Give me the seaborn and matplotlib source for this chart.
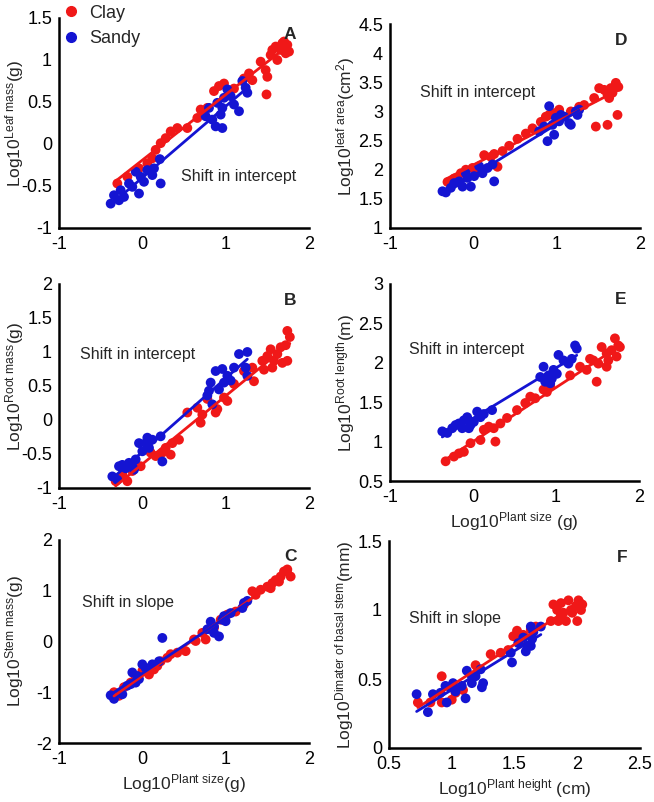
import numpy as np
import pandas as pd
import matplotlib
matplotlib.use("Agg")
import matplotlib.pyplot as plt
import seaborn as sns
from matplotlib.lines import Line2D
from matplotlib.ticker import FuncFormatter

sns.set_style("white")
plt.rcParams["font.family"] = ["Liberation Sans", "DejaVu Sans"]
plt.rcParams["mathtext.fontset"] = "custom"
plt.rcParams["mathtext.rm"] = "Liberation Sans"
plt.rcParams["mathtext.it"] = "Liberation Sans:italic"
plt.rcParams["mathtext.bf"] = "Liberation Sans:bold"
plt.rcParams["axes.unicode_minus"] = False

RED = "#f01818"
BLUE = "#1414d2"

# ---------------- Panel A: leaf mass vs plant size ----------------
a_clay_x = [-0.3, -0.18, -0.04, 0.06, 0.12, 0.16, 0.22, 0.28, 0.34, 0.42, 0.54, 0.66, 0.70, 0.78,
            0.86, 0.92, 0.98, 1.10, 1.22, 1.28, 1.32, 1.42, 1.48, 1.50, 1.49, 1.54, 1.56, 1.60,
            1.62, 1.66, 1.68, 1.70, 1.72, 1.74, 1.76]
a_clay_y = [-0.47, -0.39, -0.29, -0.23, -0.17, -0.07, 0.01, 0.07, 0.15, 0.19, 0.19, 0.31, 0.41, 0.43,
            0.63, 0.69, 0.72, 0.66, 0.78, 0.84, 0.76, 0.98, 0.88, 0.80, 0.59, 1.06, 1.12, 1.16,
            1.00, 1.12, 1.20, 1.22, 1.08, 1.18, 1.10]
a_sandy_x = [-0.38, -0.34, -0.28, -0.26, -0.22, -0.16, -0.12, -0.08, -0.04, -0.02, 0.02, 0.06, 0.12,
             0.14, 0.21, 0.22, 0.76, 0.80, 0.84, 0.88, 0.90, 0.94, 0.96, 0.98, 1.02, 1.06, 1.10,
             1.16, 1.20, 1.24, 1.26, 0.96]
a_sandy_y = [-0.71, -0.61, -0.67, -0.55, -0.63, -0.47, -0.51, -0.33, -0.59, -0.39, -0.45, -0.31, -0.37,
             -0.29, -0.18, -0.47, 0.33, 0.43, 0.29, 0.21, 0.49, 0.35, 0.43, 0.55, 0.65, 0.57, 0.47,
             0.39, 0.75, 0.67, 0.61, 0.19]

# ---------------- Panel D: leaf area vs plant size ----------------
d_clay_x = [-0.31, -0.23, -0.15, -0.09, -0.01, 0.05, 0.13, 0.21, 0.25, 0.29, 0.35, 0.43, 0.53, 0.63,
            0.71, 0.81, 0.87, 0.91, 0.97, 1.03, 1.17, 1.27, 1.33, 1.45, 1.51, 1.57, 1.61, 1.65,
            1.71, 1.74, 1.63, 1.47, 1.61, 1.73, 1.67]
d_clay_y = [1.79, 1.85, 1.94, 2.00, 2.03, 1.97, 2.25, 2.22, 2.27, 2.05, 2.32, 2.41, 2.53, 2.62,
            2.71, 2.82, 2.91, 2.94, 2.97, 3.03, 3.00, 3.08, 3.11, 3.23, 3.40, 3.37, 3.29, 3.40,
            3.49, 3.42, 3.23, 2.74, 2.77, 2.94, 3.32]
d_sandy_x = [-0.37, -0.33, -0.27, -0.23, -0.17, -0.13, -0.09, -0.07, -0.03, 0.01, 0.07, 0.11, 0.17,
             0.23, 0.25, 0.79, 0.85, 0.89, 0.91, 0.95, 0.97, 0.99, 1.03, 1.05, 1.09, 1.15, 1.17,
             1.23, 1.27, 1.25]
d_sandy_y = [1.63, 1.61, 1.69, 1.77, 1.80, 1.71, 1.94, 1.86, 1.71, 1.89, 2.06, 1.94, 2.03,
             2.09, 1.80, 2.66, 2.74, 2.49, 3.09, 2.77, 2.60, 2.89, 2.83, 2.94, 2.91, 2.80, 2.77,
             3.00, 3.03, 2.94]

# ---------------- Panel B: root mass vs plant size ----------------
b_clay_x = [-0.32, -0.18, -0.24, -0.12, -0.02, 0.10, 0.16, 0.24, 0.28, 0.34, 0.36, 0.44, 0.54, 0.66,
            0.70, 0.72, 0.78, 0.88, 0.90, 0.98, 1.02, 1.10, 1.22, 1.32, 1.34, 1.44, 1.50, 1.54,
            1.58, 1.62, 1.66, 1.68, 1.72, 1.74, 1.77, 1.74, 1.56, 1.46]
b_clay_y = [-0.90, -0.90, -0.80, -0.75, -0.68, -0.48, -0.53, -0.48, -0.41, -0.51, -0.34, -0.29, 0.11, 0.18,
            -0.04, 0.08, 0.31, 0.11, 0.16, 0.33, 0.28, 0.53, 0.72, 0.77, 0.57, 0.87, 0.94, 1.04,
            0.87, 0.97, 1.07, 0.84, 1.10, 1.31, 1.22, 0.87, 0.77, 0.74]
b_sandy_x = [-0.36, -0.30, -0.28, -0.24, -0.20, -0.16, -0.12, -0.10, -0.08, -0.04, 0.00, 0.04, 0.08,
             0.12, 0.22, 0.24, 0.06, 0.78, 0.82, 0.84, 0.88, 0.92, 0.96, 0.98, 1.02, 1.06, 1.10,
             1.16, 1.26, 1.24, 1.26, 0.80]
b_sandy_y = [-0.83, -0.88, -0.68, -0.66, -0.71, -0.63, -0.68, -0.73, -0.58, -0.34, -0.46, -0.34, -0.41,
             -0.29, -0.24, -0.61, -0.26, 0.36, 0.55, 0.23, 0.72, 0.45, 0.75, 0.55, 0.65, 0.58, 0.77,
             0.97, 1.00, 0.77, 0.65, 0.43]

# ---------------- Panel E: root length vs plant size ----------------
e_clay_x = [-0.33, -0.23, -0.17, -0.11, -0.03, 0.09, 0.13, 0.19, 0.27, 0.25, 0.33, 0.41, 0.53, 0.63,
            0.69, 0.75, 0.85, 0.89, 0.93, 1.17, 1.29, 1.37, 1.41, 1.49, 1.51, 1.55, 1.61, 1.63,
            1.67, 1.71, 1.73, 1.75, 1.77, 1.61, 1.45]
e_clay_y = [0.75, 0.81, 0.85, 0.87, 0.98, 1.02, 1.15, 1.19, 1.00, 1.17, 1.23, 1.30, 1.40, 1.49,
            1.57, 1.55, 1.66, 1.63, 1.71, 1.84, 1.95, 1.91, 2.05, 1.76, 1.99, 2.20, 2.12, 2.03,
            2.16, 2.31, 2.08, 2.22, 2.20, 1.95, 2.03]
e_sandy_x = [-0.37, -0.31, -0.25, -0.21, -0.17, -0.13, -0.11, -0.07, -0.03, 0.01, 0.05, 0.09, 0.23,
             0.13, -0.05, 0.81, 0.85, 0.87, 0.91, 0.95, 0.97, 1.01, 1.03, 1.09, 1.15, 1.23, 1.25,
             1.19, 0.93]
e_sandy_y = [1.13, 1.11, 1.17, 1.21, 1.23, 1.17, 1.27, 1.31, 1.21, 1.25, 1.38, 1.31, 1.40,
             1.35, 1.17, 1.82, 1.95, 1.76, 1.84, 1.80, 1.91, 1.86, 2.10, 2.03, 1.99, 2.22, 2.18,
             2.05, 1.74]

# ---------------- Panel C: stem mass vs plant size ----------------
c_clay_x = [-0.34, -0.28, -0.22, -0.14, -0.08, 0.00, 0.08, 0.14, 0.22, 0.30, 0.34, 0.42, 0.52, 0.64,
            0.72, 0.76, 0.86, 0.94, 1.02, 1.12, 1.22, 1.32, 1.42, 1.50, 1.56, 1.60, 1.66, 1.70,
            1.74, 1.78, 1.64, 1.54, 1.36, 0.62, 0.18]
c_clay_y = [-1.00, -1.07, -0.90, -0.81, -0.71, -0.58, -0.65, -0.55, -0.39, -0.32, -0.25, -0.22, -0.19, 0.01,
            0.17, 0.04, 0.27, 0.43, 0.53, 0.59, 0.73, 0.99, 1.02, 1.08, 1.15, 1.21, 1.28, 1.38,
            1.42, 1.28, 1.18, 1.05, 0.92, 0.04, -0.48]
c_sandy_x = [-0.38, -0.34, -0.26, -0.24, -0.18, -0.14, -0.12, -0.08, -0.06, 0.00, 0.04, 0.12, 0.20,
             0.24, -0.04, 0.78, 0.82, 0.86, 0.92, 0.96, 0.98, 1.00, 1.06, 1.22, 1.26, 1.20, 0.86]
c_sandy_y = [-1.06, -1.13, -1.00, -1.04, -0.87, -0.84, -0.61, -0.81, -0.68, -0.45, -0.52, -0.45, -0.39,
             0.07, -0.74, 0.24, 0.39, 0.30, 0.10, 0.43, 0.50, 0.40, 0.56, 0.76, 0.80, 0.66, 0.17]

# ---------------- Panel F: basal stem diameter vs plant height ----------------
f_clay_x = [0.73, 0.83, 0.92, 0.92, 1.00, 1.03, 1.09, 1.19, 1.21, 1.31, 1.39, 1.45, 1.49, 1.52,
            1.55, 1.57, 1.63, 1.67, 1.79, 1.84, 1.87, 1.89, 1.91, 1.93, 1.96, 1.99, 2.00, 2.03,
            2.04, 1.87, 1.81, 1.95, 2.01, 1.85]
f_clay_y = [0.33, 0.33, 0.52, 0.33, 0.35, 0.40, 0.42, 0.60, 0.57, 0.68, 0.69, 0.71, 0.81, 0.85,
            0.79, 0.82, 0.86, 0.88, 0.92, 1.00, 1.05, 0.98, 0.92, 1.07, 0.98, 1.03, 0.92, 1.00,
            1.04, 0.96, 1.04, 1.00, 1.07, 0.92]
f_sandy_x = [0.72, 0.81, 0.85, 0.91, 0.95, 0.96, 0.99, 1.01, 1.03, 1.11, 1.12, 1.16, 1.19, 1.23,
             1.24, 1.25, 1.48, 1.53, 1.57, 1.60, 1.63, 1.64, 1.65, 1.71, 1.59, 1.47, 1.08, 1.16, 1.63]
f_sandy_y = [0.39, 0.26, 0.39, 0.40, 0.45, 0.33, 0.44, 0.47, 0.41, 0.36, 0.56, 0.47, 0.52, 0.57,
             0.44, 0.47, 0.62, 0.76, 0.80, 0.74, 0.88, 0.79, 0.84, 0.88, 0.70, 0.69, 0.45, 0.52, 0.74]

# ---------------- Layout ----------------
W, H = 654, 802
fig = plt.figure(figsize=(W / 100, H / 100), dpi=100)

def rect(left, top, right, bottom):
    return [left / W, 1 - bottom / H, (right - left) / W, (bottom - top) / H]

fmt = FuncFormatter(lambda v, p: "%g" % v)

def panel(r, cx, cy, sx, sy, xlim, xticks, ylim, yticks, ylabel, letter, note, note_xy,
          xlabel=None):
    ax = fig.add_axes(r)
    df = pd.DataFrame({
        "x": list(cx) + list(sx),
        "y": list(cy) + list(sy),
        "soil": ["Clay"] * len(cx) + ["Sandy"] * len(sx),
    })
    sns.scatterplot(data=df, x="x", y="y", hue="soil", palette={"Clay": RED, "Sandy": BLUE},
                    s=50, linewidth=0, legend=False, ax=ax, zorder=2)
    for soil, col in (("Clay", RED), ("Sandy", BLUE)):
        sub = df[df.soil == soil]
        sns.regplot(data=sub, x="x", y="y", scatter=False, ci=None, truncate=True,
                    color=col, line_kws={"lw": 2.0, "zorder": 3}, ax=ax)
    ax.set_xlim(*xlim)
    ax.set_ylim(*ylim)
    ax.set_xticks(xticks)
    ax.set_yticks(yticks)
    ax.xaxis.set_major_formatter(fmt)
    ax.yaxis.set_major_formatter(fmt)
    for s in ("top", "right"):
        ax.spines[s].set_visible(False)
    for s in ("left", "bottom"):
        ax.spines[s].set_linewidth(1.8)
        ax.spines[s].set_color("black")
    ax.tick_params(direction="in", length=0, width=1, labelsize=13, colors="black")
    ax.tick_params(axis="y", pad=5)
    ax.tick_params(axis="x", pad=6)
    ax.set_ylabel(ylabel, fontsize=12.5)
    ax.yaxis.set_label_coords(-0.132, 0.5)
    ax.set_xlabel(xlabel if xlabel else "", fontsize=12.5, labelpad=3)
    ax.text(0.95, 0.92, letter, transform=ax.transAxes, fontsize=12.5, fontweight="bold",
            ha="right", va="center")
    ax.text(note_xy[0], note_xy[1], note, transform=fig.transFigure, fontsize=11.5,
            ha="left", va="center")
    return ax

axA = panel(rect(59, 18, 309, 228), a_clay_x, a_clay_y, a_sandy_x, a_sandy_y,
            (-1, 2), [-1, 0, 1, 2], (-1, 1.5), [-1, -0.5, 0, 0.5, 1, 1.5],
            r"Log10$^{\mathrm{Leaf\ mass}}$(g)", "A", "Shift in intercept",
            (181 / W, 1 - 176 / H))
axD = panel(rect(390, 24, 640, 228), d_clay_x, d_clay_y, d_sandy_x, d_sandy_y,
            (-1, 2), [-1, 0, 1, 2], (1, 4.5), [1, 1.5, 2, 2.5, 3, 3.5, 4, 4.5],
            r"Log10$^{\mathrm{leaf\ area}}$(cm$^{2}$)", "D", "Shift in intercept",
            (420 / W, 1 - 93 / H))
axB = panel(rect(59, 284, 309, 488), b_clay_x, b_clay_y, b_sandy_x, b_sandy_y,
            (-1, 2), [-1, 0, 1, 2], (-1, 2), [-1, -0.5, 0, 0.5, 1, 1.5, 2],
            r"Log10$^{\mathrm{Root\ mass}}$(g)", "B", "Shift in intercept",
            (80 / W, 1 - 355 / H))
axE = panel(rect(390, 284, 639, 481), e_clay_x, e_clay_y, e_sandy_x, e_sandy_y,
            (-1, 2), [-1, 0, 1, 2], (0.5, 3), [0.5, 1, 1.5, 2, 2.5, 3],
            r"Log10$^{\mathrm{Root\ length}}$(m)", "E", "Shift in intercept",
            (409 / W, 1 - 349 / H), xlabel=r"Log10$^{\mathrm{Plant\ size}}$ (g)")
axC = panel(rect(59, 540, 309, 743), c_clay_x, c_clay_y, c_sandy_x, c_sandy_y,
            (-1, 2), [-1, 0, 1, 2], (-2, 2), [-2, -1, 0, 1, 2],
            r"Log10$^{\mathrm{Stem\ mass}}$(g)", "C", "Shift in slope",
            (82 / W, 1 - 603 / H), xlabel=r"Log10$^{\mathrm{Plant\ size}}$(g)")
axF = panel(rect(389, 541, 640, 748), f_clay_x, f_clay_y, f_sandy_x, f_sandy_y,
            (0.5, 2.5), [0.5, 1, 1.5, 2, 2.5], (0, 1.5), [0, 0.5, 1, 1.5],
            r"Log10$^{\mathrm{Dimater\ of\ basal\ stem}}$(mm)", "F", "Shift in slope",
            (409 / W, 1 - 619 / H), xlabel=r"Log10$^{\mathrm{Plant\ height}}$ (cm)")

handles = [Line2D([], [], marker="o", ls="", color=RED, markersize=7, label="Clay"),
           Line2D([], [], marker="o", ls="", color=BLUE, markersize=7, label="Sandy")]
fig.legend(handles=handles, loc="upper left", bbox_to_anchor=(60 / W, 1 - 3 / H), frameon=False,
           fontsize=13, handletextpad=0.5, labelspacing=0.45, borderaxespad=0.0,
           handlelength=1.0, borderpad=0.1)

fig.savefig("out.png", dpi=100)
